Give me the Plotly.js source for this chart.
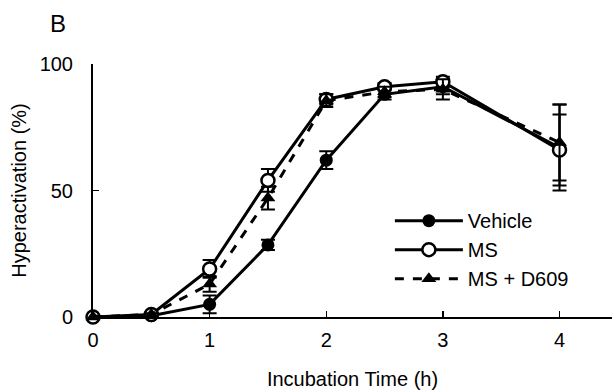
<!DOCTYPE html>
<html><head><meta charset="utf-8">
<script src="https://cdn.plot.ly/plotly-3.0.1.min.js"></script>
<style>body{margin:0;background:#fff}#c{width:612px;height:392px}</style>
</head><body><div id="c"></div>
<script>
const times = [0, 0.5, 1, 1.5, 2, 2.5, 3, 4];
const vehicle = [0, 0.5, 5, 28.5, 62, 88, 91, 67];
const vehicleErr = [0.5, 0.5, 3.5, 2, 3.5, 2, 3, 17];
const ms = [0, 1, 19, 54, 86, 91, 93, 66];
const msErr = [0.5, 0.5, 3.5, 4.5, 2, 1.5, 2, 14];
const msD609 = [0, 1, 13, 47, 85.5, 89, 90, 69];
const msD609Err = [0.5, 0.5, 3, 4.5, 2.5, 2, 4, 15];
const xTicks = [0, 1, 2, 3, 4];
const yTicks = [0, 50, 100];

const errStyle = (arr) => ({type: 'data', array: arr, visible: true, color: '#000', thickness: 2, width: 7});
const traces = [
  {x: times, y: vehicle, error_y: errStyle(vehicleErr), name: 'Vehicle', legendgroup: 'a', mode: 'lines+markers',
   line: {color: '#000', width: 3}, marker: {symbol: 'circle', size: 13, color: '#000'}},
  {x: times, y: ms, error_y: errStyle(msErr), name: 'MS', legendgroup: 'b', mode: 'lines+markers',
   line: {color: '#000', width: 3}, marker: {symbol: 'circle', size: 13, color: '#fff', line: {color: '#000', width: 2.5}}},
  {x: times, y: msD609, error_y: errStyle(msD609Err), name: 'MS + D609', legendgroup: 'c', mode: 'lines+markers',
   line: {color: '#000', width: 3, dash: 'dash'}, marker: {symbol: 'triangle-up', size: 13, color: '#000'}}
];
traces.forEach(t => t.cliponaxis = false);

const layout = {
  width: 612, height: 392,
  margin: {l: 93, r: 0, t: 64, b: 75},
  paper_bgcolor: '#fff', plot_bgcolor: '#fff',
  font: {family: 'Liberation Sans, Arial, sans-serif', size: 20, color: '#000'},
  showlegend: true,
  legend: {x: 0.572, y: 0.458, xanchor: 'left', yanchor: 'top', bgcolor: 'rgba(0,0,0,0)',
           font: {size: 20}, itemwidth: 68, tracegroupgap: 5.5, traceorder: 'normal'},
  xaxis: {range: [0, 4.45], tickvals: xTicks, ticktext: xTicks.map(String), ticks: 'inside', ticklen: 6,
          tickwidth: 1.5, tickcolor: '#000', showline: true, linecolor: '#000', linewidth: 2, ticklabelstandoff: 4,
          showgrid: false, zeroline: false, title: {text: 'Incubation Time (h)', standoff: 22, font: {size: 20}}},
  yaxis: {range: [0, 100], tickvals: yTicks, ticktext: yTicks.map(String), ticks: 'inside', ticklen: 6,
          tickwidth: 1.5, tickcolor: '#000', showline: true, linecolor: '#000', linewidth: 2, ticklabelstandoff: 14,
          showgrid: false, zeroline: false, title: {text: 'Hyperactivation (%)', standoff: 8, font: {size: 20}}},
  annotations: [{text: 'B', xref: 'paper', yref: 'paper', x: (58 - 93) / 519, y: 1 + (64 - 23) / 253,
                 xanchor: 'center', yanchor: 'middle', showarrow: false, font: {size: 24}}]
};
Plotly.newPlot('c', traces, layout, {displayModeBar: false, staticPlot: true});
</script></body></html>
